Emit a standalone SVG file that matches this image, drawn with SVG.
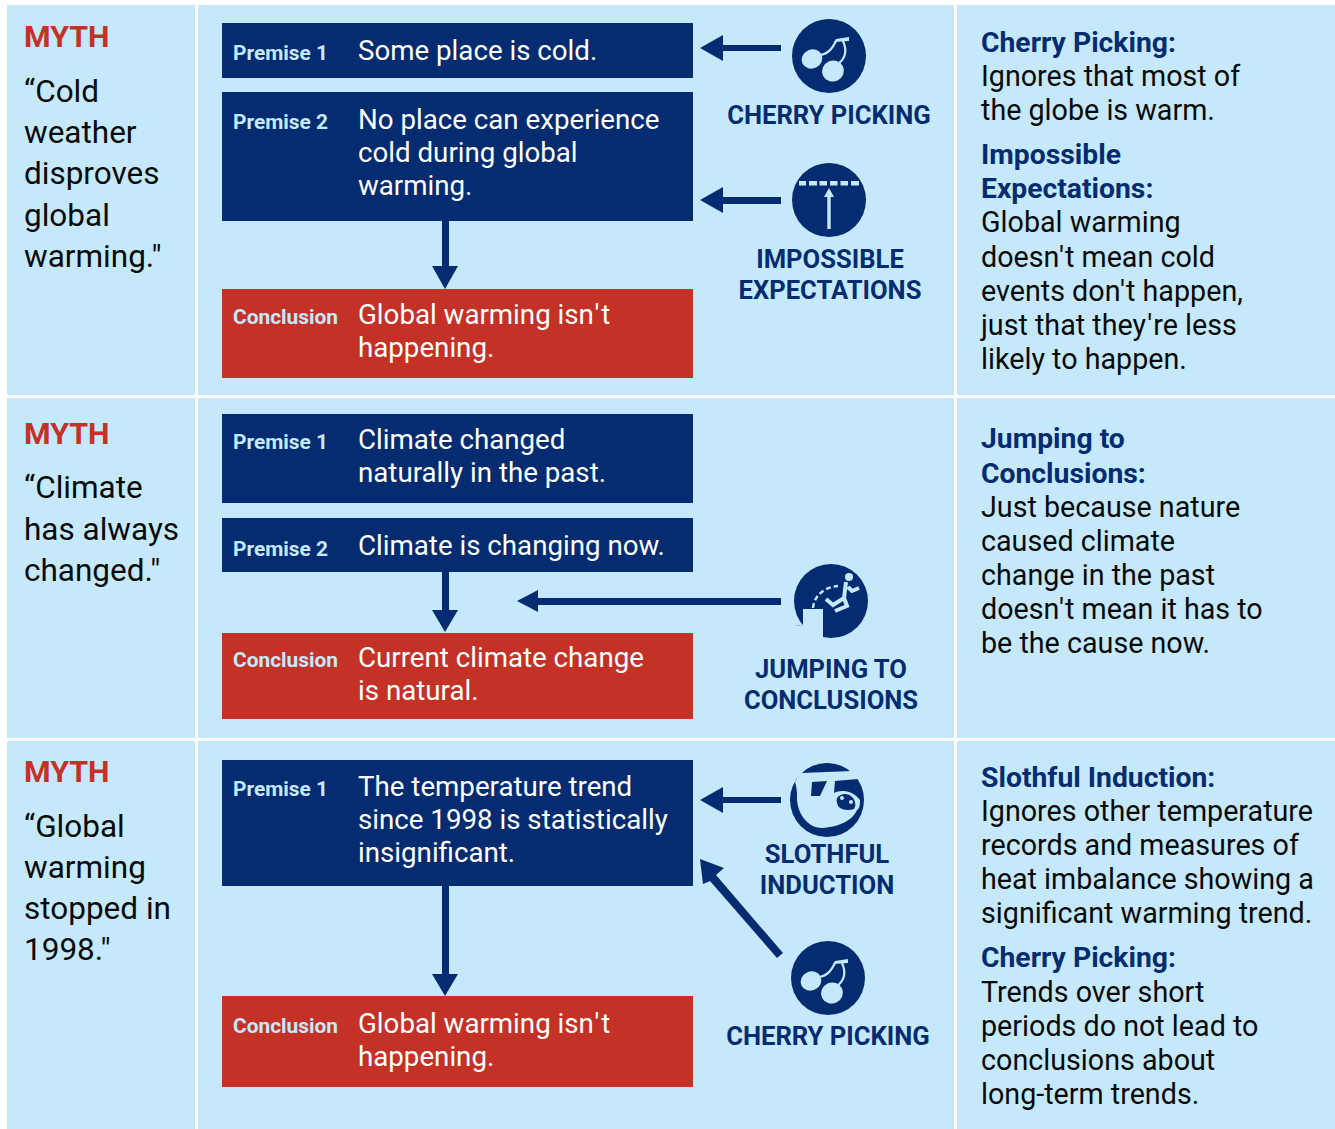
<svg xmlns="http://www.w3.org/2000/svg" width="1335" height="1129" viewBox="0 0 1335 1129">
<style>
text{font-family:Roboto,"Liberation Sans",sans-serif}
.p{fill:#c5e9fb}
.b{fill:#052c70}
.r{fill:#c43126}
.lt{fill:#c5e9fb}
.my{font-size:30.4px;font-weight:700;fill:#c43126}
.q{font-size:31.5px;fill:#0a0a0a}
.l{font-size:20.9px;font-weight:700;fill:#c5e9fb}
.s{font-size:27.7px;fill:#fff}
.h{font-size:28.3px;font-weight:700;fill:#052c70}
.d{font-size:28.7px;fill:#0a0a0a}
.c{font-size:25.6px;font-weight:700;fill:#052c70;text-anchor:middle}
</style>
<defs>
<g id="cherry">
<circle r="37" class="b"/>
<path d="M-9-1C0-2 4-9 7-15M14-15C18-6 17 2 9 8" fill="none" stroke="#c5e9fb" stroke-width="2.2"/>
<path d="M5-14 7-17 20-19 20-15Z" class="lt"/>
<ellipse cx="-17" cy="3" rx="10.5" ry="9.5" transform="rotate(-25 -17 3)" class="lt"/>
<ellipse cx="4" cy="15" rx="11" ry="10.5" transform="rotate(-25 4 15)" class="lt"/>
</g>
<g id="impossible">
<circle r="37" class="b"/>
<path d="M-30-19H-23V-14.500H-30ZM-20-19H-12V-14.500H-20ZM-9.500-19H-2V-14.500H-9.500ZM1-19H8.500V-14.500H1ZM11.500-19H19V-14.500H11.500ZM22-19H30V-14.500H22Z" class="lt"/>
<path d="M0-12 5-3H1.700V29H-1.700V-3H-5Z" class="lt"/>
</g>
<g id="jump">
<circle r="37" class="b"/>
<path d="M-28 8H-8V38H-28Z" class="lt"/>
<path d="M-38 24H-28V38H-38Z" class="p"/>
<path d="M-28 24-36 24A37 37 0 0 0 -28 24Z" class="b"/>
<circle cx="18" cy="-24" r="4" class="lt"/>
<path d="M-18 7C-17-5-7-14 7-15" fill="none" stroke="#c5e9fb" stroke-width="2.4" stroke-dasharray="5 3"/>
<path d="M15-19 13-3 2 4-5-2M13-3 16 5 4 10M17-14 21-10 28-13" fill="none" stroke="#c5e9fb" stroke-width="4"/>
</g>
<g id="sloth">
<circle r="37" class="b"/>
<path d="M-26-27 25-29A37 37 0 0 1 31-21L8-19 7-7C12-10 25-11 33 0 33 6 32 9 30 10 26 20 12 27-5 28-20 28-31 12-30-5-30-10-31-15-32-18A37 37 0 0 1 -26-27Z" class="lt"/>
<path d="M-15-18 0-19-7-4-16-4Z" class="b"/>
<path d="M10-2C14-7 21-7 25-3 29 1 29 6 27 9 21 11 14 10 11 6 10 3 9 0 10-2Z" class="b"/>
<circle cx="15" cy="-2" r="2" class="lt"/><circle cx="24" cy="2" r="2" class="lt"/>
</g>
</defs>
<g id="panels">
<rect class="p" x="7" y="5" width="188" height="390"/><rect class="p" x="198" y="5" width="756" height="390"/><rect class="p" x="957" y="5" width="378" height="390"/>
<rect class="p" x="7" y="398" width="188" height="340"/><rect class="p" x="198" y="398" width="756" height="340"/><rect class="p" x="957" y="398" width="378" height="340"/>
<rect class="p" x="7" y="741" width="188" height="388"/><rect class="p" x="198" y="741" width="756" height="388"/><rect class="p" x="957" y="741" width="378" height="388"/>
</g>
<g id="myth1"><text class="my" x="24" y="47">MYTH</text><text class="q"><tspan x="24" y="102">“Cold</tspan><tspan x="24" y="143">weather</tspan><tspan x="24" y="184">disproves</tspan><tspan x="24" y="226">global</tspan><tspan x="24" y="267">warming."</tspan></text></g>
<g id="myth2"><text class="my" x="24" y="444">MYTH</text><text class="q"><tspan x="24" y="498">“Climate</tspan><tspan x="24" y="540">has always</tspan><tspan x="24" y="581">changed."</tspan></text></g>
<g id="myth3"><text class="my" x="24" y="782">MYTH</text><text class="q"><tspan x="24" y="837">“Global</tspan><tspan x="24" y="878">warming</tspan><tspan x="24" y="919">stopped in</tspan><tspan x="24" y="960">1998."</tspan></text></g>
<g id="connectors" fill="#052c70" stroke="none">
<path d="M700 48 723 35V45H781V51H723V61Z"/>
<path d="M700 200 723 187V197H781V204H723V213Z"/>
<path d="M442 221H449V266H458L445 289 432 266H442Z"/>
<path d="M517 601 538 590V598H781V605H538V612Z"/>
<path d="M442 572H449V610H458L445 632 432 610H442Z"/>
<path d="M442 886H449V974H458L445 996 432 974H442Z"/>
<path d="M700 800 723 787V797H781V803H723V813Z"/>
<path d="M700 859 724 868 716 875 783 953 777 958 710 881 703 884Z"/>
</g>
<g id="n1p1"><rect class="b" x="222" y="23" width="471" height="55"/><text class="l" x="233" y="60">Premise 1</text><text class="s" x="358" y="60">Some place is cold.</text></g>
<g id="n1p2"><rect class="b" x="222" y="92" width="471" height="129"/><text class="l" x="233" y="129">Premise 2</text><text class="s"><tspan x="358" y="129">No place can experience</tspan><tspan x="358" y="162">cold during global</tspan><tspan x="358" y="195">warming.</tspan></text></g>
<g id="n1c"><rect class="r" x="222" y="289" width="471" height="89"/><text class="l" x="233" y="324">Conclusion</text><text class="s"><tspan x="358" y="324">Global warming isn<tspan dx="2">'</tspan><tspan dx="2">t</tspan></tspan><tspan x="358" y="357">happening.</tspan></text></g>
<g id="n2p1"><rect class="b" x="222" y="414" width="471" height="89"/><text class="l" x="233" y="449">Premise 1</text><text class="s"><tspan x="358" y="449">Climate changed</tspan><tspan x="358" y="482">naturally in the past.</tspan></text></g>
<g id="n2p2"><rect class="b" x="222" y="518" width="471" height="54"/><text class="l" x="233" y="556">Premise 2</text><text class="s" x="358" y="555">Climate is changing now.</text></g>
<g id="n2c"><rect class="r" x="222" y="633" width="471" height="86"/><text class="l" x="233" y="667">Conclusion</text><text class="s"><tspan x="358" y="667">Current climate change</tspan><tspan x="358" y="700">is natural.</tspan></text></g>
<g id="n3p1"><rect class="b" x="222" y="760" width="471" height="126"/><text class="l" x="233" y="796">Premise 1</text><text class="s"><tspan x="358" y="796">The temperature trend</tspan><tspan x="358" y="829">since 1998 is statistically</tspan><tspan x="358" y="862">insignificant.</tspan></text></g>
<g id="n3c"><rect class="r" x="222" y="996" width="471" height="91"/><text class="l" x="233" y="1033">Conclusion</text><text class="s"><tspan x="358" y="1033">Global warming isn<tspan dx="2">'</tspan><tspan dx="2">t</tspan></tspan><tspan x="358" y="1066">happening.</tspan></text></g>
<g id="f1"><use href="#cherry" x="829" y="56"/><text class="c" x="829" y="124">CHERRY PICKING</text></g>
<g id="f2"><use href="#impossible" x="829" y="200"/><text class="c"><tspan x="830" y="268">IMPOSSIBLE</tspan><tspan x="830" y="299">EXPECTATIONS</tspan></text></g>
<g id="f3"><use href="#jump" x="831" y="601"/><text class="c"><tspan x="831" y="678">JUMPING TO</tspan><tspan x="831" y="709">CONCLUSIONS</tspan></text></g>
<g id="f4"><use href="#sloth" x="827" y="800"/><text class="c"><tspan x="827" y="863">SLOTHFUL</tspan><tspan x="827" y="894">INDUCTION</tspan></text></g>
<g id="f5"><use href="#cherry" x="828" y="978"/><text class="c" x="828" y="1045">CHERRY PICKING</text></g>
<g id="e1"><text class="h" x="981" y="52">Cherry Picking:</text><text class="d"><tspan x="981" y="86">Ignores that most of</tspan><tspan x="981" y="120">the globe is warm.</tspan></text><text class="h"><tspan x="981" y="164">Impossible</tspan><tspan x="981" y="198">Expectations:</tspan></text><text class="d"><tspan x="981" y="232">Global warming</tspan><tspan x="981" y="267">doesn<tspan dx="1">'</tspan><tspan dx="1">t mean cold</tspan></tspan><tspan x="981" y="301">events don<tspan dx="1">'</tspan><tspan dx="1">t happen,</tspan></tspan><tspan x="981" y="335">just that they<tspan dx="1">'</tspan><tspan dx="1">re less</tspan></tspan><tspan x="981" y="369">likely to happen.</tspan></text></g>
<g id="e2"><text class="h"><tspan x="981" y="448">Jumping to</tspan><tspan x="981" y="483">Conclusions:</tspan></text><text class="d"><tspan x="981" y="517">Just because nature</tspan><tspan x="981" y="551">caused climate</tspan><tspan x="981" y="585">change in the past</tspan><tspan x="981" y="619">doesn<tspan dx="1">'</tspan><tspan dx="1">t mean it has to</tspan></tspan><tspan x="981" y="653">be the cause now.</tspan></text></g>
<g id="e3"><text class="h" x="981" y="787">Slothful Induction:</text><text class="d"><tspan x="981" y="821">Ignores other temperature</tspan><tspan x="981" y="855">records and measures of</tspan><tspan x="981" y="889">heat imbalance showing a</tspan><tspan x="981" y="923">significant warming trend.</tspan></text><text class="h" x="981" y="967">Cherry Picking:</text><text class="d"><tspan x="981" y="1002">Trends over short</tspan><tspan x="981" y="1036">periods do not lead to</tspan><tspan x="981" y="1070">conclusions about</tspan><tspan x="981" y="1104">long-term trends.</tspan></text></g>
</svg>
